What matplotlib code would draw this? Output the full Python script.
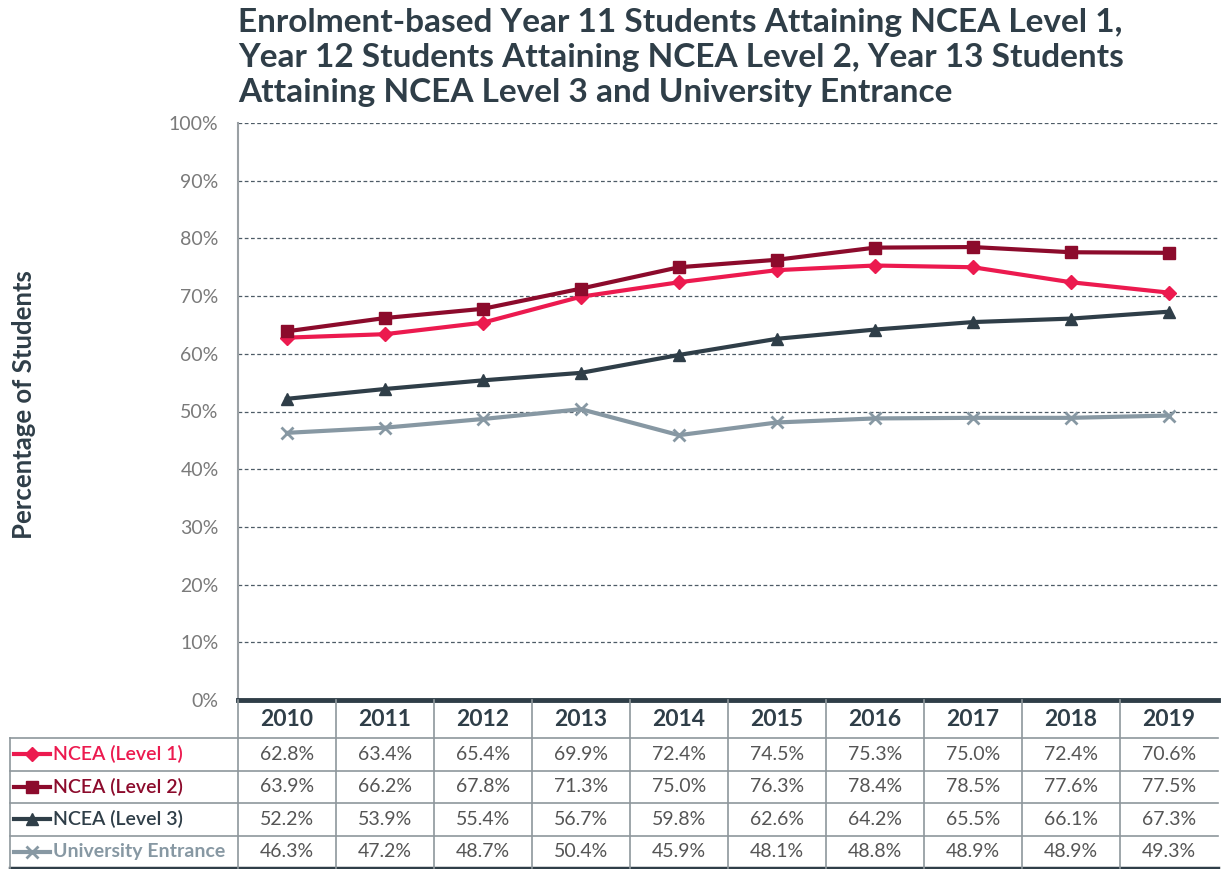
import matplotlib.pyplot as plt
import numpy as np

# data
years = ['2010', '2011', '2012', '2013', '2014', '2015', '2016', '2017', '2018', '2019']
level1 = [62.8, 63.4, 65.4, 69.9, 72.4, 74.5, 75.3, 75.0, 72.4, 70.6]
level2 = [63.9, 66.2, 67.8, 71.3, 75.0, 76.3, 78.4, 78.5, 77.6, 77.5]
level3 = [52.2, 53.9, 55.4, 56.7, 59.8, 62.6, 64.2, 65.5, 66.1, 67.3]
ue = [46.3, 47.2, 48.7, 50.4, 45.9, 48.1, 48.8, 48.9, 48.9, 49.3]
series_names = ['NCEA (Level 1)', 'NCEA (Level 2)', 'NCEA (Level 3)', 'University Entrance']

plt.rcParams['font.family'] = ['Lato', 'DejaVu Sans']

dark = '#2f3e48'
colors = ['#ec1a4f', '#8c0b2c', '#2f3e48', '#8798a3']
markers = ['D', 's', '^', 'x']
msizes = [7, 9, 9, 9]
series = [level1, level2, level3, ue]

W, H = 1223, 869
fig = plt.figure(figsize=(W / 100, H / 100), dpi=100)

# chart axes
left, right, top, bottom = 238, 1218, 123, 700
ax = fig.add_axes([left / W, 1 - bottom / H, (right - left) / W, (bottom - top) / H])
x = np.arange(len(years))
for vals, c, m, ms in zip(series, colors, markers, msizes):
    ax.plot(x, vals, color=c, lw=3, marker=m, ms=ms, mew=2 if m == 'x' else 1, zorder=3)

ax.set_xlim(-0.5, len(years) - 0.5)
ax.set_ylim(0, 100)
ax.set_yticks(np.arange(0, 101, 10))
ax.set_yticklabels([f'{v}%' for v in range(0, 101, 10)], color='#7a7a7a', fontsize=14)
ax.set_xticks([])
ax.tick_params(axis='y', length=0, pad=14)
ax.yaxis.grid(True, linestyle=(0, (3, 2)), color='#4d5b66', lw=0.9)
for s in ['top', 'right', 'bottom']:
    ax.spines[s].set_visible(False)
ax.spines['left'].set_color('#9aa0a4')
ax.spines['left'].set_linewidth(1.5)

fig.text(24 / W, 1 - 405 / H, 'Percentage of Students', rotation=90, ha='center', va='center',
         fontsize=18.5, fontweight='bold', color=dark)

fig.text(left / W, 1 - 8 / H,
         'Enrolment-based Year 11 Students Attaining NCEA Level 1,\n'
         'Year 12 Students Attaining NCEA Level 2, Year 13 Students\n'
         'Attaining NCEA Level 3 and University Entrance',
         ha='left', va='top', fontsize=24, fontweight='bold', color=dark, linespacing=1.26)

# data table below the chart
tleft, ttop, tbottom = 10, 700, 868
col_w = (right - left) / len(years)
label_w = (left - tleft) / col_w
header_h = 38 / ((tbottom - ttop - 38) / 4)
x0, x1 = -0.5 - label_w, len(years) - 0.5

tax = fig.add_axes([tleft / W, 1 - tbottom / H, (right - tleft) / W, (tbottom - ttop) / H])
tax.set_xlim(x0, x1)
tax.set_ylim(4, -header_h)
tax.axis('off')

grid_c = '#8e979c'
for r in range(0, 4):
    tax.plot([x0, x1], [r, r], color=grid_c, lw=1.2, clip_on=False)
tax.plot([-0.5, x1], [-header_h, -header_h], color=dark, lw=3.5, clip_on=False)
tax.plot([x0, x1], [4, 4], color=dark, lw=2.5, clip_on=False)
tax.plot([x0, x0], [0, 4], color=grid_c, lw=1.2, clip_on=False)
for c in range(len(years)):
    tax.plot([c - 0.5, c - 0.5], [-header_h, 4], color=grid_c, lw=1.2, clip_on=False)

for i, yr in enumerate(years):
    tax.text(i, -header_h / 2, yr, ha='center', va='center', fontsize=16.5,
             fontweight='bold', color=dark)

for r, (vals, name, c, m, ms) in enumerate(zip(series, series_names, colors, markers, msizes)):
    yc = r + 0.5
    for i, v in enumerate(vals):
        tax.text(i, yc, f'{v:.1f}%', ha='center', va='center', fontsize=14, color='#555555')
    lx0 = x0 + 0.04
    lx1 = x0 + 0.41
    tax.plot([lx0, lx1], [yc, yc], color=c, lw=3, clip_on=False)
    tax.plot([(lx0 + lx1) / 2], [yc], color=c, marker=m, ms=ms, mew=2 if m == 'x' else 1,
             clip_on=False)
    tax.text(lx1 + 0.03, yc, name, ha='left', va='center', fontsize=14, color=c,
             fontweight='bold' if r == 3 else 'semibold')

fig.savefig('out.png', dpi=100)
